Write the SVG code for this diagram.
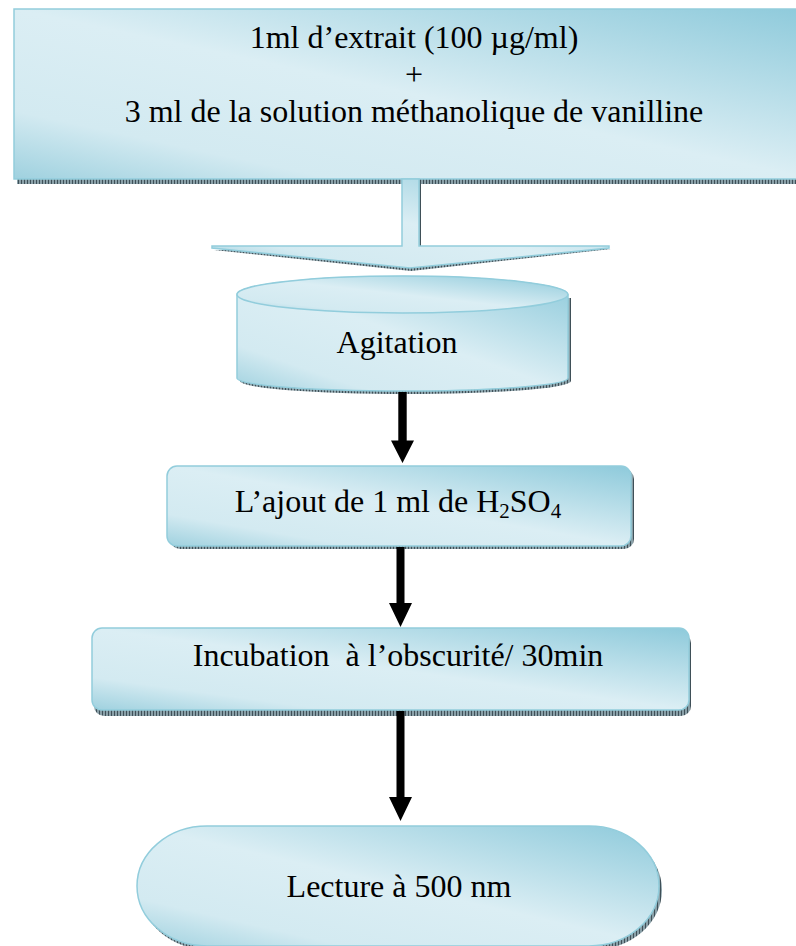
<svg xmlns="http://www.w3.org/2000/svg" width="796" height="946" viewBox="0 0 796 946">
<style>
.node{stroke:#92cddc;stroke-width:1.5;fill:url(#g)}
.sh{fill:url(#hatch)}
.t{font-family:"Liberation Serif","Times New Roman",serif;font-size:32px;fill:#000;text-anchor:middle}
.sub{font-size:21px}
.arr{fill:#000}
</style>
<defs>
<linearGradient id="g" x1="1" y1="0" x2="0" y2="1">
<stop offset="0" stop-color="#8ecadb"/>
<stop offset="0.5" stop-color="#dbeef4"/>
<stop offset="0.8" stop-color="#d3eaf1"/>
<stop offset="1" stop-color="#9fd1df"/>
</linearGradient>
<pattern id="hatch" width="3" height="3" patternUnits="userSpaceOnUse">
<rect width="3" height="3" fill="#8aa0a8"/>
<rect width="1" height="3" fill="#3f5058"/>
</pattern>
</defs>
<g id="n1">
<rect class="sh" x="17" y="14" width="800" height="170"/>
<rect class="node" x="14" y="9" width="800" height="170"/>
<text class="t" x="414" y="48">1ml d’extrait (100 µg/ml)</text>
<text class="t" x="414" y="85">+</text>
<text class="t" x="414" y="122">3 ml de la solution méthanolique de vanilline</text>
</g>
<g id="blockarrow">
<path class="sh" d="M421,182 L421,249 L611,249 L411,271 L214,250 L404,249 L404,182 Z"/>
<path class="node" d="M402,179 L402,246 L212,246 L212,248 L410,268 L609,248 L609,246 L419,246 L419,179 Z"/>
</g>
<g id="n2">
<path class="sh" d="M240,298 L240,381 A165.5,13 0 0 0 571,381 L571,298 Z"/>
<path class="node" d="M237,295 L237,378 A165.5,13 0 0 0 568,378 L568,295 A165.5,18.5 0 0 0 237,295 Z"/>
<ellipse class="node" cx="402.5" cy="294.5" rx="165.5" ry="18.5"/>
<text class="t" x="397" y="353">Agitation</text>
</g>
<g id="n3">
<rect class="sh" x="170" y="469" width="464" height="80" rx="10"/>
<rect class="node" x="167" y="466" width="464" height="80" rx="10"/>
<text class="t" x="398" y="512">L’ajout de 1 ml de H<tspan class="sub" dy="6">2</tspan><tspan dy="-6">SO</tspan><tspan class="sub" dy="6">4</tspan></text>
</g>
<g id="n4">
<rect class="sh" x="94" y="633" width="597" height="83" rx="10"/>
<rect class="node" x="92" y="628" width="597" height="82" rx="10"/>
<text class="t" x="398" y="666" xml:space="preserve">Incubation  à l’obscurité/ 30min</text>
</g>
<g id="n5">
<rect class="sh" x="140" y="830" width="522" height="120" rx="70" ry="60"/>
<rect class="node" x="137" y="826" width="522" height="120" rx="70" ry="60"/>
<text class="t" x="399" y="897">Lecture à 500 nm</text>
</g>
<g id="connectors">
<path class="arr" d="M398.3,392 L406.7,392 L406.7,440.5 L414,440.5 L402.5,463 L391,440.5 L398.3,440.5 Z"/>
<path class="arr" d="M396.5,547 L404.5,547 L404.5,603 L412,603 L400.5,627 L389,603 L396.5,603 Z"/>
<path class="arr" d="M396.5,711 L404.5,711 L404.5,797 L412,797 L400.5,821 L389,797 L396.5,797 Z"/>
</g>
</svg>
